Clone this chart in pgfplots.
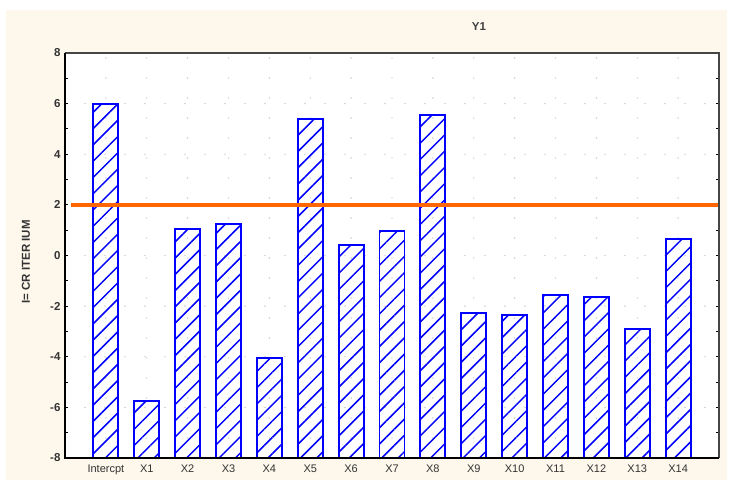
\documentclass[border=0pt]{standalone}
\usepackage{pgfplots}
\pgfplotsset{compat=1.18}
\usepackage{pgfplotstable}
\usepackage{fontspec}
\setmainfont{Liberation Sans}
\usetikzlibrary{patterns.meta}

\definecolor{panel}{RGB}{254,248,236}
\definecolor{critline}{RGB}{255,102,0}
\definecolor{framegray}{RGB}{70,70,70}

% t-criterion of each coefficient (idx 0 = intercept)
\pgfplotstableread{
idx t
0   5.97
1  -5.74
2   1.05
3   1.25
4  -4.05
5   5.39
6   0.41
7   0.97
8   5.55
9  -2.27
10 -2.35
11 -1.56
12 -1.64
13 -2.90
14  0.65
}\tcrit

\begin{document}
\begin{tikzpicture}
\fill[white] (0pt,0pt) rectangle (736pt,482pt);
\fill[panel] (6pt,2pt) rectangle (727pt,472pt);
\node[font=\fontsize{11.5}{13}\selectfont\bfseries, text=black!75] at (479pt,455pt) {Y1};
\node[font=\fontsize{11.5}{13}\selectfont\bfseries, text=black!80, rotate=90] at (26pt,220pt) {I= CR ITER IUM};
\begin{axis}[
  at={(65pt,24pt)}, anchor=south west,
  scale only axis, width=654pt, height=405pt,
  xmin=-1, xmax=15, ymin=0, ymax=16,
  axis background/.style={fill=white},
  axis line style={draw=none},
  xtick={0,...,14},
  xticklabels={Intercpt,X1,X2,X3,X4,X5,X6,X7,X8,X9,X10,X11,X12,X13,X14},
  ytick={0,2,...,16},
  yticklabels={-8,-6,-4,-2,0,2,4,6,8},
  minor ytick={1,3,...,15},
  x tick label style={font=\fontsize{11}{13}\selectfont, text=black!80, yshift=-3pt},
  y tick label style={font=\fontsize{11.5}{13}\selectfont\bfseries, text=black!80, xshift=-1pt},
  major x tick style={draw=none},
  major y tick style={black, line width=1pt},
  minor y tick style={black, line width=1pt},
  major tick length=3pt, minor tick length=3pt,
  tick align=inside,
  grid=major,
  major grid style={gray!55, line width=1.3pt, line cap=round, dash pattern=on 0pt off 20pt},
  clip=false,
]
\addplot[ybar, bar width=25pt, draw=blue, line width=1.8pt,
  pattern={Lines[angle=45,distance=11.5pt,line width=1.5pt]}, pattern color=blue]
  table[x=idx, y expr=\thisrow{t}+8] {\tcrit};
\addplot[critline, line width=3.5pt] coordinates {(-0.85,10) (14.98,10)};
\draw[framegray, line width=2pt] (rel axis cs:0,1) -- (rel axis cs:1,1) -- (rel axis cs:1,0);
\draw[black, line width=2pt] (rel axis cs:0,1) -- (rel axis cs:0,0) -- (rel axis cs:1,0);
\end{axis}
\end{tikzpicture}
\end{document}
